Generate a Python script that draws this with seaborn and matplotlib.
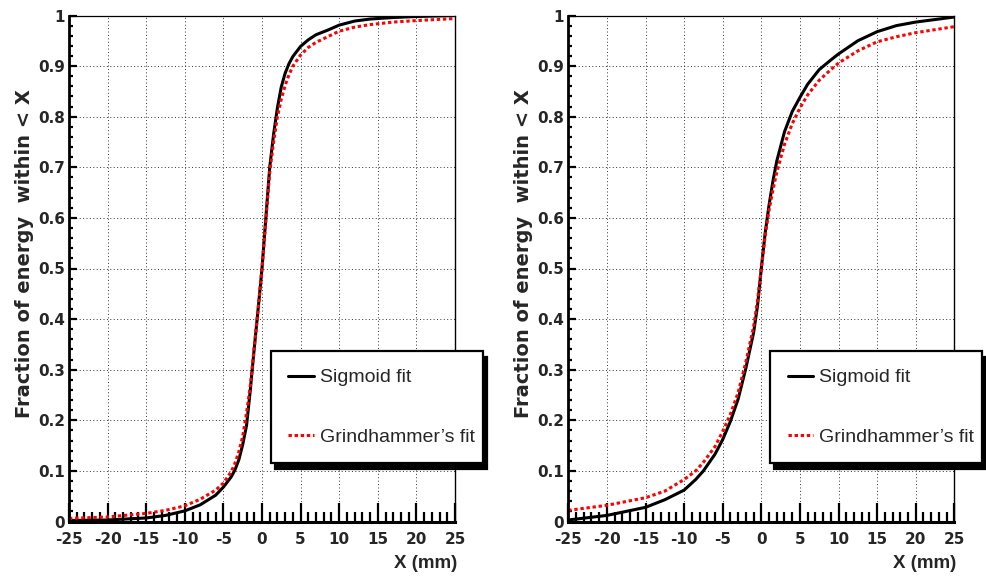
import numpy as np
import pandas as pd
import seaborn as sns
import matplotlib.pyplot as plt
from matplotlib.ticker import MultipleLocator, FixedLocator

sns.set_theme(style="white")
plt.rcParams["font.family"] = ["Liberation Sans", "DejaVu Sans"]
plt.rcParams["axes.unicode_minus"] = False

# values (left panel)
x_left = [-25, -20, -15, -12.5, -10, -8, -6, -5, -4, -3.5, -3, -2.5, -2, -1.5,
          -1, -0.5, 0, 0.5, 1, 1.5, 2, 2.5, 3, 3.5, 4, 5, 6, 7, 8.5, 10, 12,
          14, 17, 20, 25]
sigmoid_left = [0.002, 0.003, 0.007, 0.012, 0.021, 0.033, 0.052, 0.068, 0.088,
                0.102, 0.122, 0.152, 0.19, 0.262, 0.343, 0.42, 0.5, 0.6, 0.7,
                0.765, 0.818, 0.859, 0.886, 0.905, 0.919, 0.939, 0.952, 0.962,
                0.971, 0.981, 0.989, 0.993, 0.996, 0.998, 1.0]
grind_left = [0.006, 0.009, 0.016, 0.022, 0.031, 0.044, 0.062, 0.076, 0.098,
              0.115, 0.138, 0.168, 0.215, 0.27, 0.345, 0.42, 0.5, 0.595, 0.69,
              0.75, 0.8, 0.835, 0.862, 0.883, 0.9, 0.922, 0.937, 0.947, 0.958,
              0.969, 0.977, 0.982, 0.987, 0.99, 0.994]

# right panel
x_right = [-25, -20, -15, -12.5, -10, -8.5, -7.5, -6, -5, -4, -3, -2, -1, -0.5,
           0, 0.5, 1, 1.5, 2, 3, 4, 5, 6, 7.5, 9, 10, 12.5, 15, 17.5, 20, 25]
sigmoid_right = [0.003, 0.012, 0.028, 0.043, 0.062, 0.083, 0.1, 0.133, 0.162,
                 0.198, 0.242, 0.303, 0.373, 0.425, 0.5, 0.57, 0.625, 0.672,
                 0.712, 0.77, 0.81, 0.838, 0.864, 0.893, 0.912, 0.924, 0.95,
                 0.968, 0.98, 0.987, 0.997]
grind_right = [0.022, 0.032, 0.047, 0.06, 0.083, 0.1, 0.117, 0.148, 0.178,
               0.212, 0.255, 0.315, 0.385, 0.435, 0.5, 0.565, 0.615, 0.655,
               0.69, 0.745, 0.786, 0.817, 0.843, 0.872, 0.893, 0.906, 0.93,
               0.948, 0.958, 0.966, 0.978]

x_ticks = [-25, -20, -15, -10, -5, 0, 5, 10, 15, 20, 25]
x_tick_labels = ["-25", "-20", "-15", "-10", "-5", "0", "5", "10", "15", "20", "25"]
y_ticks = [0, 0.1, 0.2, 0.3, 0.4, 0.5, 0.6, 0.7, 0.8, 0.9, 1.0]
y_tick_labels = ["0", "0.1", "0.2", "0.3", "0.4", "0.5", "0.6", "0.7", "0.8", "0.9", "1"]

labels = ["Sigmoid fit", "Grindhammer\u2019s fit"]


def draw_panel(ax, x, sig, grind):
    sns.lineplot(x=x, y=sig, ax=ax, color="black", lw=2.2, label=labels[0])
    sns.lineplot(x=x, y=grind, ax=ax, color="#ff0000", lw=2.2,
                 linestyle=(0, (1.1, 0.9)), label=labels[1])

    ax.set_xlim(-25, 25)
    ax.set_ylim(0, 1)

    ax.xaxis.set_major_locator(FixedLocator(x_ticks))
    ax.set_xticklabels(x_tick_labels)
    ax.xaxis.set_minor_locator(MultipleLocator(1))
    ax.yaxis.set_major_locator(FixedLocator(y_ticks))
    ax.set_yticklabels(y_tick_labels)
    ax.yaxis.set_minor_locator(MultipleLocator(0.02))

    ax.tick_params(axis="x", which="major", direction="in", length=14,
                   width=1.6, pad=7.5, labelsize=11, color="black")
    ax.tick_params(axis="x", which="minor", direction="in", length=7,
                   width=1.6, color="black")
    ax.tick_params(axis="y", which="major", direction="in", length=5.5,
                   width=1.6, pad=3, labelsize=11, color="black")
    ax.tick_params(axis="y", which="minor", direction="in", length=3,
                   width=1.6, color="black")
    ax.tick_params(bottom=True, left=True, top=False, right=False,
                   which="both")
    for lab in ax.get_xticklabels() + ax.get_yticklabels():
        lab.set_fontweight("bold")
        lab.set_family("DejaVu Sans")

    ax.grid(True, which="major", color="#333333", lw=0.7, ls=(0, (1, 2.5)))
    ax.set_axisbelow(True)

    ax.spines["left"].set_linewidth(2.0)
    ax.spines["bottom"].set_linewidth(2.2)
    ax.spines["top"].set_linewidth(0.9)
    ax.spines["right"].set_linewidth(1.0)
    for s in ax.spines.values():
        s.set_color("black")

    ax.set_xlabel("X (mm)", fontsize=13.5, fontweight="bold", ha="right",
                  va="top")
    ax.xaxis.set_label_coords(1.005, -0.066)
    ax.set_ylabel("Fraction of energy  within < X", fontsize=14,
                  fontweight="bold", family="DejaVu Sans")
    ax.yaxis.set_label_coords(-0.091, 0.53)

    leg = ax.legend(loc="lower left", bbox_to_anchor=(0.523, 0.115, 0.55, 0.22),
                    mode="expand", fontsize=14, frameon=True, fancybox=False,
                    framealpha=1, edgecolor="black", borderpad=0.9,
                    labelspacing=2.15, handlelength=1.3, handletextpad=0.33,
                    borderaxespad=0,
                    shadow={"ox": 3, "oy": -4, "facecolor": "black",
                            "edgecolor": "black", "alpha": 1})
    leg.get_frame().set_linewidth(1.6)
    leg.set_zorder(10)


fig = plt.figure(figsize=(9.86, 5.79), dpi=100)
ax1 = fig.add_axes([69 / 986, 57.5 / 579, 386 / 986, 506 / 579])
ax2 = fig.add_axes([568.3 / 986, 57.5 / 579, 386 / 986, 506 / 579])

draw_panel(ax1, x_left, sigmoid_left, grind_left)
draw_panel(ax2, x_right, sigmoid_right, grind_right)

fig.savefig("out.png", dpi=100, facecolor="white")
